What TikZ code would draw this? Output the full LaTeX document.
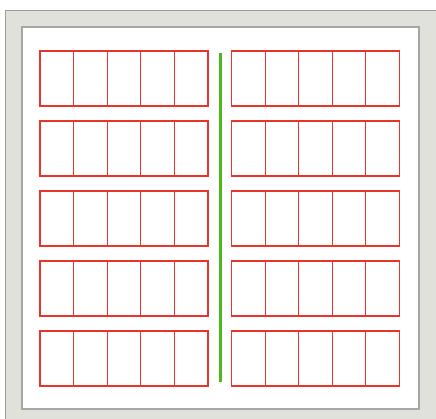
\documentclass[tikz,border=0pt]{standalone}
\definecolor{panelgray}{HTML}{E1E1DC}
\definecolor{panelline}{HTML}{9C9C9A}
\definecolor{innerline}{HTML}{A6A6A4}
\definecolor{cellred}{HTML}{E8342A}
\definecolor{bargreen}{HTML}{4DB81E}
\tikzset{
  panel/.style={fill=panelgray, draw=panelline, line width=1.5pt},
  sheet/.style={fill=white, draw=innerline, line width=1.6pt},
  cell/.style={draw=cellred, line width=1.1pt},
  divider/.style={draw=bargreen, line width=3.6pt}
}
\begin{document}
\begin{tikzpicture}[x=1pt,y=-1pt]
\useasboundingbox (0,0) rectangle (436,419);
\fill[white] (0,0) rectangle (436,419);
\draw[panel] (5.5,10.5) rectangle (440,425);
\draw[sheet] (22,26.8) rectangle (419,409);
\foreach \top in {51,121,191,261,331}{
  \foreach \x in {40,231.5}{
    \foreach \i in {0,...,4}{
      \draw[cell] ({\x+\i*33.6},\top) rectangle ({\x+(\i+1)*33.6},{\top+55});
    }
  }
}
\coordinate (gtop) at (220.6,53.5);
\coordinate (gbot) at (220.6,382.3);
\draw[divider] (gtop) -- (gbot);
\end{tikzpicture}
\end{document}
